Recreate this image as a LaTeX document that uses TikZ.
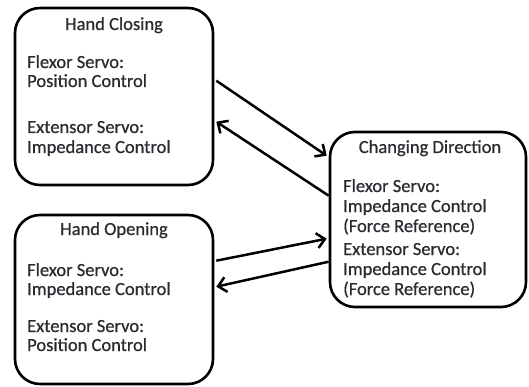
\documentclass[tikz,border=0pt]{standalone}
\usepackage{fontspec}
\setmainfont{Carlito}[FakeBold=0.6,AutoFakeBold=0.6]
\newfontfamily\boxfont{Carlito}[FakeBold=0.6,AutoFakeBold=0.6]
\usetikzlibrary{arrows.meta,calc}
\definecolor{txt}{HTML}{2A2A30}
\tikzset{
  statebox/.style={draw=black, line width=2.6pt, rounded corners=25pt,
    minimum width=198pt, inner sep=0pt},
  lbl/.style={anchor=base west, inner sep=0pt, text=txt, font=\fontsize{18.5}{20}\bfseries},
  ttl/.style={anchor=base, inner sep=0pt, text=txt, font=\fontsize{18.5}{20}\bfseries},
  arr/.style={line width=2.5pt, -{Straight Barb[length=8pt,width=15pt,line width=2.5pt]}}
}
\begin{document}
\begin{tikzpicture}[x=1pt,y=-1pt]
\useasboundingbox (0,0) rectangle (529,387);
% state boxes
\node[statebox, minimum height=177pt] (closing) at (114,96.5) {};
\node[statebox, minimum height=169pt] (opening) at (114,299.5) {};
\node[statebox, minimum height=175pt, minimum width=196pt] (change) at (428,219.5) {};
% Hand Closing texts
\node[ttl] (c0) at (114,30) {Hand Closing};
\node[lbl] (c1) at (27,68) {Flexor Servo:};
\node[lbl] (c2) at (27,87) {Position Control};
\node[lbl] (c3) at (27,133) {Extensor Servo:};
\node[lbl] (c4) at (27,153) {Impedance Control};
% Hand Opening texts
\node[ttl] (o0) at (114,235) {Hand Opening};
\node[lbl] (o1) at (27,276) {Flexor Servo:};
\node[lbl] (o2) at (27,295) {Impedance Control};
\node[lbl] (o3) at (27,332) {Extensor Servo:};
\node[lbl] (o4) at (27,351) {Position Control};
% Changing Direction texts
\node[ttl] (d0) at (430,153) {Changing Direction};
\node[lbl] (d1) at (343,192) {Flexor Servo:};
\node[lbl] (d2) at (343,212) {Impedance Control};
\node[lbl] (d3) at (343,232) {(Force Reference)};
\node[lbl] (d4) at (343,255) {Extensor Servo:};
\node[lbl] (d5) at (343,275) {Impedance Control};
\node[lbl] (d6) at (343,295) {(Force Reference)};
% transitions
\draw[arr] ($(closing.north east)+(2,74)$) -- ($(change.north west)+(-2,25)$);
\draw[arr] ($(change.north west)+(0,65)$) -- ($(closing.north east)+(2,115)$);
\draw[arr] ($(opening.north east)+(2,47)$) -- ($(change.north west)+(-2,108)$);
\draw[arr] ($(change.north west)+(0,131)$) -- ($(opening.north east)+(2,73)$);
\end{tikzpicture}
\end{document}
